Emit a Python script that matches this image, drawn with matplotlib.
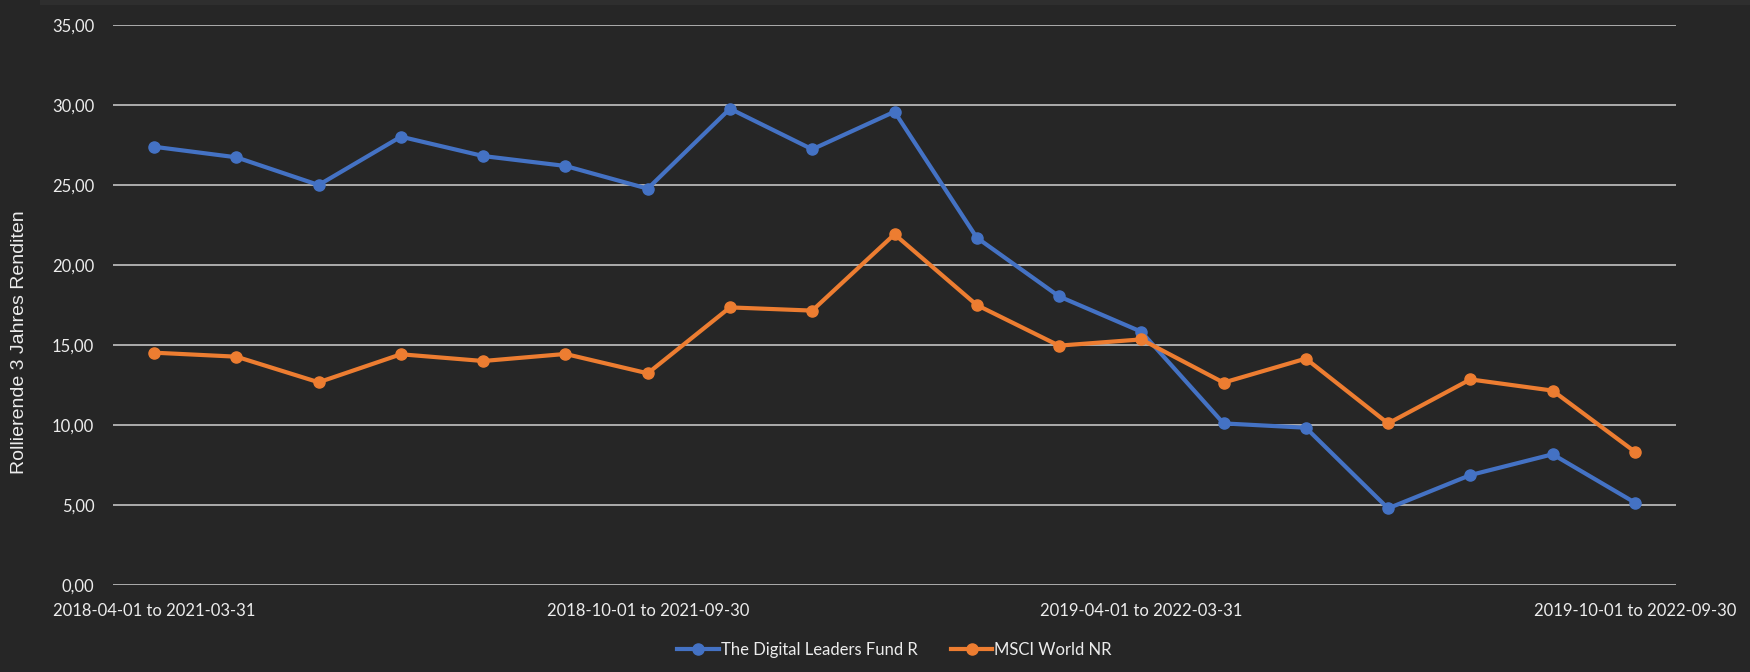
import matplotlib
matplotlib.use('Agg')
from matplotlib import pyplot as plt
from matplotlib.ticker import FuncFormatter
from matplotlib.patches import Rectangle

periods = [
    '2018-04-01 to 2021-03-31', '2018-05-01 to 2021-04-30', '2018-06-01 to 2021-05-31',
    '2018-07-01 to 2021-06-30', '2018-08-01 to 2021-07-31', '2018-09-01 to 2021-08-31',
    '2018-10-01 to 2021-09-30', '2018-11-01 to 2021-10-31', '2018-12-01 to 2021-11-30',
    '2019-01-01 to 2021-12-31', '2019-02-01 to 2022-01-31', '2019-03-01 to 2022-02-28',
    '2019-04-01 to 2022-03-31', '2019-05-01 to 2022-04-30', '2019-06-01 to 2022-05-31',
    '2019-07-01 to 2022-06-30', '2019-08-01 to 2022-07-31', '2019-09-01 to 2022-08-31',
    '2019-10-01 to 2022-09-30',
]
fund = [27.39, 26.73, 25.00, 28.02, 26.81, 26.19, 24.77, 29.77, 27.23, 29.58,
        21.71, 18.04, 15.83, 10.10, 9.83, 4.79, 6.87, 8.17, 5.15]
msci = [14.52, 14.27, 12.67, 14.42, 14.00, 14.44, 13.23, 17.35, 17.15, 21.92,
        17.50, 14.96, 15.35, 12.65, 14.15, 10.10, 12.85, 12.15, 8.33]
shown_ticks = [0, 6, 12, 18]

bg = '#262626'
txt = '#ececec'

fig = plt.figure(figsize=(17.5, 6.72), dpi=100, facecolor=bg)
fig.patches.append(Rectangle((40 / 1750, 1 - 5 / 672), 1, 5 / 672, transform=fig.transFigure,
                             facecolor='#2e2e2e', edgecolor='none', zorder=0))
ax = fig.add_axes([113 / 1750, 87 / 672, (1676 - 113) / 1750, (585 - 25) / 672])
ax.set_facecolor(bg)

x = list(range(len(periods)))
ax.plot(x, fund, color='#4472C4', lw=3.0, marker='o', ms=8,
        label='The Digital Leaders Fund R', zorder=3)
ax.plot(x, msci, color='#ED7D31', lw=3.0, marker='o', ms=8,
        label='MSCI World NR', zorder=3)

ax.set_xlim(-0.5, len(periods) - 0.5)
ax.set_ylim(0, 35)
ax.set_yticks(range(0, 36, 5))
ax.yaxis.set_major_formatter(FuncFormatter(lambda v, p: f'{v:.2f}'.replace('.', ',')))
ax.set_xticks(shown_ticks)
ax.set_xticklabels([periods[i] for i in shown_ticks])
ax.grid(axis='y', color='#d0d0d0', lw=1.1)
ax.set_axisbelow(True)
for s in ax.spines.values():
    s.set_visible(False)
ax.tick_params(axis='both', length=0, colors=txt, labelsize=12)
ax.tick_params(axis='y', pad=13.5)
ax.tick_params(axis='x', pad=13)
for lab in ax.get_xticklabels() + ax.get_yticklabels():
    lab.set_family('Lato')

fig.text(20 / 1750, 1 - 342 / 672, 'Rollierende 3 Jahres Renditen', rotation=90,
         ha='center', va='center', color=txt, fontsize=14, family='Liberation Sans')

leg = ax.legend(loc='center', bbox_to_anchor=(0.5, -(650 - 585) / 560), ncol=2,
                frameon=False, handlelength=2.5, columnspacing=2.0, handletextpad=0.1,
                prop={'family': 'Lato', 'size': 12})
for t in leg.get_texts():
    t.set_color(txt)

fig.savefig('out.png', dpi=100, facecolor=bg)
